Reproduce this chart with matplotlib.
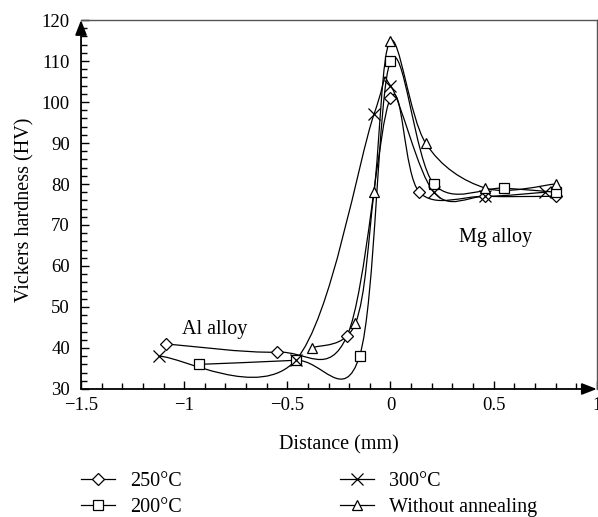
import numpy as np
import matplotlib
matplotlib.use('Agg')
import matplotlib.pyplot as plt
from matplotlib.path import Path
from matplotlib.patches import PathPatch
from matplotlib.lines import Line2D

plt.rcParams['font.family'] = ['Liberation Serif', 'DejaVu Serif']

# data
x250 = [-1.09, -0.55, -0.21, 0.0, 0.14, 0.46, 0.80]
y250 = [41, 39, 43, 101, 78, 77, 77]
x200 = [-0.93, -0.46, -0.15, 0.0, 0.21, 0.55, 0.80]
y200 = [36, 37, 38, 110, 80, 79, 78]
x300 = [-1.12, -0.46, -0.08, 0.0, 0.21, 0.46, 0.75]
y300 = [38, 37, 97, 104, 78, 77, 78]
xNone = [-0.38, -0.17, -0.08, 0.0, 0.17, 0.46, 0.80]
yNone = [40, 46, 78, 115, 90, 79, 80]

labels = ['250°C', '200°C', '300°C', 'Without annealing']
markers = ['D', 's', 'x', '^']
msizes = [6, 7.5, 8, 7.5]

FS = 14.5


def smooth_path(x, y):
    # catmull-rom style bezier, like spreadsheet "smoothed line"
    p = np.column_stack([x, y]).astype(float)
    n = len(p)
    verts = [p[0]]
    codes = [Path.MOVETO]
    for i in range(n - 1):
        p0 = p[i - 1] if i > 0 else p[i]
        p1 = p[i]
        p2 = p[i + 1]
        p3 = p[i + 2] if i + 2 < n else p[i + 1]
        c1 = p1 + (p2 - p0) / 6
        c2 = p2 - (p3 - p1) / 6
        verts += [c1, c2, p2]
        codes += [Path.CURVE4] * 3
    return Path(verts, codes)


fig = plt.figure(figsize=(5.98, 5.17), dpi=100)
ax = fig.add_axes([0.1355, 0.2476, 0.8625, 0.7137])

series = [(x250, y250), (x200, y200), (x300, y300), (xNone, yNone)]
handles = []
for (xs, ys), lab, m, ms in zip(series, labels, markers, msizes):
    ax.add_patch(PathPatch(smooth_path(xs, ys), facecolor='none', edgecolor='black', lw=0.9, zorder=2))
    ax.plot(xs, ys, linestyle='none', marker=m, ms=ms, mfc='white' if m != 'x' else 'black',
            mec='black', mew=0.9, zorder=3)
    handles.append(Line2D([], [], color='black', lw=0.9, marker=m, ms=ms,
                          mfc='white', mec='black', mew=0.9))

ax.set_xlim(-1.5, 1)
ax.set_ylim(30, 120)
ax.set_xticks([-1.5, -1, -0.5, 0, 0.5, 1])
ax.set_xticklabels(['\u22121.5', '\u22121', '\u22120.5', '0', '0.5', '1'])
ax.set_xticks(np.arange(-1.5, 1.001, 0.1), minor=True)
ax.set_yticks(np.arange(30, 121, 10))
ax.set_yticks(np.arange(30, 121, 2), minor=True)
ax.tick_params(which='both', direction='in', top=False, right=False, labelsize=13.5, width=1)
ax.tick_params(which='major', length=6)
ax.tick_params(which='minor', length=4)
ax.tick_params(axis='x', pad=6)
ax.tick_params(axis='y', pad=8)

ax.spines['left'].set_visible(False)
ax.spines['bottom'].set_visible(False)
ax.spines['top'].set_color('#555555')
ax.spines['right'].set_color('#555555')
ax.spines['top'].set_linewidth(1)
ax.spines['right'].set_linewidth(1)

# axis arrows
ax.annotate('', xy=(0, 1), xytext=(0, 0), xycoords='axes fraction',
            arrowprops=dict(arrowstyle='-|>,head_length=0.9,head_width=0.35', color='black', lw=1.3,
                            shrinkA=0, shrinkB=0))
ax.annotate('', xy=(1, 0), xytext=(0, 0), xycoords='axes fraction',
            arrowprops=dict(arrowstyle='-|>,head_length=0.9,head_width=0.35', color='black', lw=1.3,
                            shrinkA=0, shrinkB=0))

ax.set_xlabel('Distance (mm)', fontsize=FS)
ax.set_ylabel('Vickers hardness (HV)', fontsize=FS)
ax.xaxis.set_label_coords(0.5, -0.125)
ax.yaxis.set_label_coords(-0.09, 0.485)

ax.text(-0.85, 44.5, 'Al alloy', fontsize=FS, ha='center', va='center')
ax.text(0.51, 67, 'Mg alloy', fontsize=FS, ha='center', va='center')

fig.legend(handles[:2], labels[:2], loc='center left', bbox_to_anchor=(81 / 598, 1 - 494.5 / 517),
           frameon=False, fontsize=FS, handlelength=1.7, handletextpad=0.75,
           labelspacing=0.38, borderaxespad=0, borderpad=0)
fig.legend(handles[2:], labels[2:], loc='center left', bbox_to_anchor=(340 / 598, 1 - 494.5 / 517),
           frameon=False, fontsize=FS, handlelength=1.7, handletextpad=0.75,
           labelspacing=0.38, borderaxespad=0, borderpad=0)

fig.savefig('out.png', dpi=100)
